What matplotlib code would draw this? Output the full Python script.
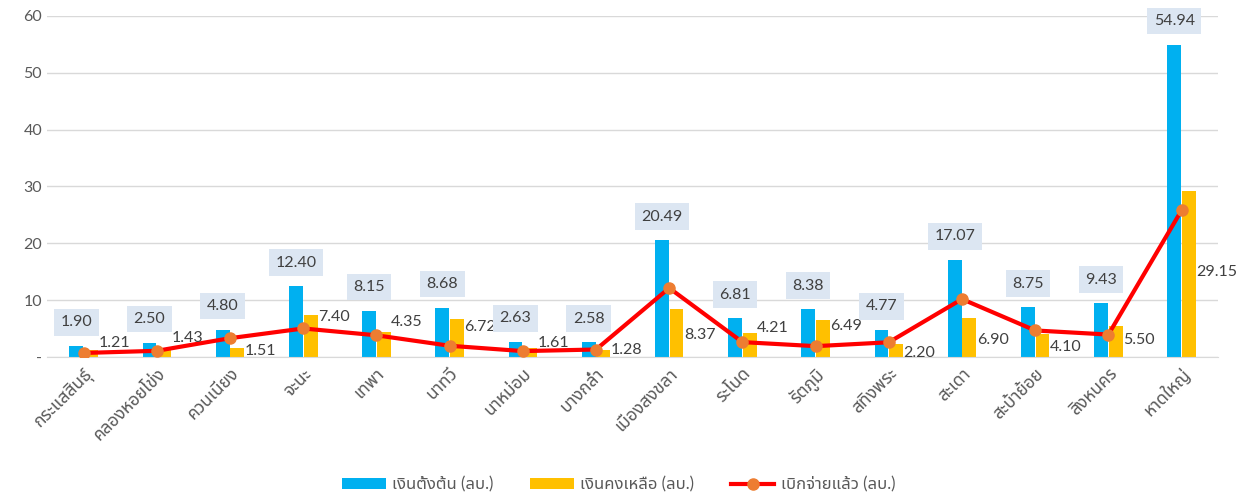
import matplotlib
matplotlib.use("Agg")
import matplotlib.pyplot as plt
from matplotlib import font_manager
from matplotlib.ft2font import FT2Font
from matplotlib.ticker import FuncFormatter
import numpy as np

districts = ["กระแสสินธุ์", "คลองหอยโข่ง", "ควนเนียง", "จะนะ", "เทพา", "นาทวี",
             "นาหม่อม", "บางกล่ำ", "เมืองสงขลา", "ระโนด", "รัตภูมิ", "สทิงพระ",
             "สะเดา", "สะบ้าย้อย", "สิงหนคร", "หาดใหญ่"]
initial = [1.90, 2.50, 4.80, 12.40, 8.15, 8.68, 2.63, 2.58, 20.49, 6.81,
           8.38, 4.77, 17.07, 8.75, 9.43, 54.94]
remaining = [1.21, 1.43, 1.51, 7.40, 4.35, 6.72, 1.61, 1.28, 8.37, 4.21,
             6.49, 2.20, 6.90, 4.10, 5.50, 29.15]
disbursed = [0.69, 1.07, 3.29, 5.00, 3.80, 1.96, 1.02, 1.30, 12.12, 2.60,
             1.89, 2.57, 10.17, 4.65, 3.93, 25.79]
legend_labels = ["เงินตั้งต้น (ลบ.)", "เงินคงเหลือ (ลบ.)", "เบิกจ่ายแล้ว (ลบ.)"]

# where the "remaining" labels sit (the source has them dragged around)
remaining_label_y = [2.4, 3.3, 1.0, 7.0, 6.2, 5.3, 2.5, 1.3, 3.9, 5.1,
                     5.5, 0.7, 3.0, 1.8, 3.0, 15.0]


def find_thai_font():
    preferred = ["Noto Sans Thai", "Noto Sans Thai UI", "Loma", "Garuda", "Sarabun",
                 "Umpush", "Waree", "Laksaman", "Kinnari", "Norasi", "Sawasdee"]
    found = []
    for path in font_manager.findSystemFonts():
        try:
            if 0x0E01 not in FT2Font(path).get_charmap():
                continue
            name = font_manager.FontProperties(fname=path).get_name()
        except Exception:
            continue
        found.append(name)
    for p in preferred:
        if p in found:
            return p
    bad = ("mono", "typo", "typewriter", "typist", "code")
    for name in found:
        if not any(b in name.lower() for b in bad):
            return name
    return found[0] if found else None


thai = find_thai_font()
families = ["Lato"] + ([thai] if thai else []) + ["DejaVu Sans"]
plt.rcParams["font.family"] = families

BLUE = "#00B0F0"
YELLOW = "#FFC000"
RED = "#FF0000"
ORANGE = "#ED7D31"
TXT = "#595959"

fig = plt.figure(figsize=(12.38, 4.95), dpi=100)
ax = fig.add_axes([0.038, 0.279, 0.946, 0.689])

x = np.arange(len(districts))
w = 0.19
b1 = ax.bar(x - 0.1, initial, w, color=BLUE, label=legend_labels[0], zorder=2)
b2 = ax.bar(x + 0.1, remaining, w, color=YELLOW, label=legend_labels[1], zorder=2)
ln, = ax.plot(x, disbursed, color=RED, lw=3, marker="o", markersize=8,
              markerfacecolor=ORANGE, markeredgecolor=ORANGE, label=legend_labels[2], zorder=3)

for i in range(len(x)):
    ax.annotate(f"{initial[i]:.2f}", (x[i] - 0.1, initial[i]), xytext=(0, 17),
                textcoords="offset points", ha="center", va="center", fontsize=11.5,
                color="#404040", zorder=4,
                bbox=dict(boxstyle="square,pad=0.4", fc="#DCE6F2", ec="none"))
    ax.text(x[i] + 0.2, remaining_label_y[i], f"{remaining[i]:.2f}", ha="left",
            va="center", fontsize=11.5, color="#404040", zorder=4)

ax.set_xlim(-0.5, len(x) - 0.5)
ax.set_ylim(0, 60)
ax.set_yticks(range(0, 61, 10))
ax.yaxis.set_major_formatter(FuncFormatter(lambda v, p: "-" if v == 0 else f"{v:.0f}"))
ax.grid(axis="y", color="#D9D9D9", lw=1, zorder=0)
ax.set_axisbelow(True)
for s in ["top", "right", "left"]:
    ax.spines[s].set_visible(False)
ax.spines["bottom"].set_color("#D9D9D9")
ax.tick_params(axis="y", length=0, colors=TXT, labelsize=11.5)
ax.tick_params(axis="x", length=0, colors=TXT, labelsize=12.5, pad=6)
ax.set_xticks(x)
ax.set_xticklabels(districts, rotation=45, ha="right", rotation_mode="anchor")

fig.legend([b1, b2, ln], legend_labels, loc="lower center", bbox_to_anchor=(0.5, -0.025),
           ncol=3, frameon=False, fontsize=12, labelcolor=TXT, handlelength=2.6,
           handletextpad=0.4, columnspacing=2.2)

fig.savefig("out.png", dpi=100)
